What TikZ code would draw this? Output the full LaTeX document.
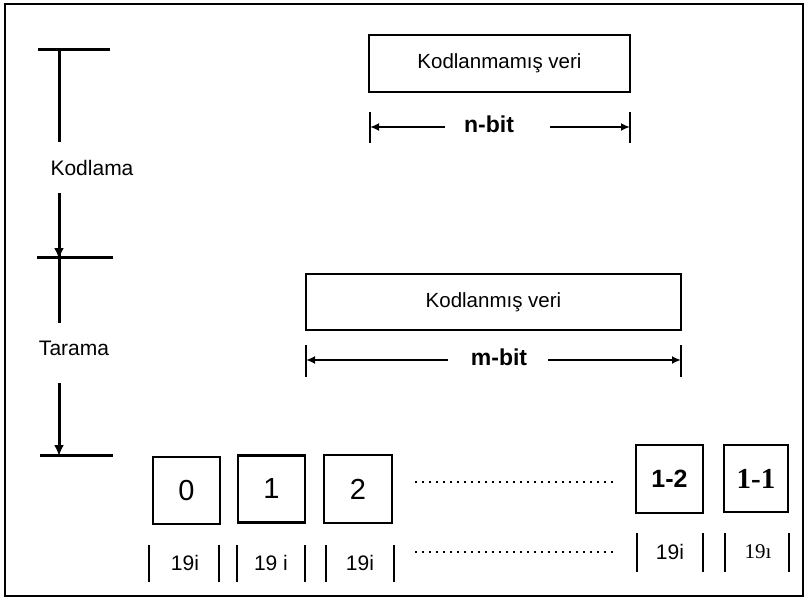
\documentclass[tikz,border=0pt]{standalone}
\usepackage{fontspec}
\setmainfont{Liberation Sans}
\newfontfamily\serifface{Liberation Serif}
\usetikzlibrary{arrows.meta}
\tikzset{
  frame/.style={line width=2pt},
  thick line/.style={line width=3pt},
  datablock/.style={draw, line width=2.8pt, inner sep=0pt, font=\fontsize{20.5}{24}\selectfont},
  cell/.style={draw, line width=2.6pt, inner sep=0pt, minimum width=67pt, minimum height=67pt},
  celltext/.style={font=\fontsize{21}{24}\selectfont},
  sidelabel/.style={font=\fontsize{21}{24}\selectfont},
  hand/.style={font=\fontsize{23}{26}\selectfont\bfseries},
  dimline/.style={line width=2.4pt, -{Latex[length=9pt,width=8pt]}},
  downarrow/.style={line width=3pt, -{Latex[length=11pt,width=10pt]}},
  bar/.style={line width=2.6pt},
  dots/.style={line width=2.4pt, dash pattern=on 1.6pt off 5.4pt}
}
\begin{document}
\begin{tikzpicture}[x=1pt,y=-1pt]
\useasboundingbox (0,0) rectangle (809,607);
% outer frame
\draw[frame] (5,4) rectangle (803,596);

% ---- left column: process stages ----
\coordinate (t1l) at (38,50);  \coordinate (t1r) at (110,50);
\coordinate (t1top) at (59,50); \coordinate (t1bot) at (59,142);
\draw[thick line] (t1l) -- (t1r);
\draw[thick line] (t1top) -- (t1bot);
\node[sidelabel] (kodlama) at (92,168) {Kodlama};

\coordinate (t2l) at (37,257); \coordinate (t2r) at (113,257);
\coordinate (t2top) at (59,193); \coordinate (t2mid) at (59,259); \coordinate (t2bot) at (59,323);
\draw[thick line] (t2l) -- (t2r);
\draw[thick line] (t2top) -- (t2bot);
\draw[downarrow] (t2top) -- (t2mid);
\node[sidelabel] (tarama) at (74,348) {Tarama};

\coordinate (t3l) at (40,455); \coordinate (t3r) at (113,455);
\coordinate (t3top) at (59,383); \coordinate (t3bot) at (59,456);
\draw[thick line] (t3l) -- (t3r);
\draw[downarrow] (t3top) -- (t3bot);

% ---- uncoded data ----
\node[datablock, minimum width=261pt, minimum height=57pt] (raw) at (499.5,63.5) {Kodlanmamış veri};
\coordinate (nL) at (370,127); \coordinate (nR) at (630,127);
\draw[bar] (370,112) -- (370,143);
\draw[bar] (630,112) -- (630,143);
\node[hand] (nbit) at (489,124) {n-bit};
\draw[dimline] (445,127) -- (nL);
\draw[dimline] (550,127) -- (nR);

% ---- coded data ----
\node[datablock, minimum width=375pt, minimum height=56pt] (coded) at (493.5,302) {Kodlanmış veri};
\coordinate (mL) at (306,360); \coordinate (mR) at (681,360);
\draw[bar] (306,345) -- (306,377);
\draw[bar] (681,345) -- (681,377);
\node[hand] (mbit) at (499,357) {m-bit};
\draw[dimline] (448,360) -- (mL);
\draw[dimline] (548,360) -- (mR);

% ---- scanned cells ----
\node[cell, font=\fontsize{29}{32}\selectfont] (c0) at (186.5,490.5) {0};
\node[cell, font=\fontsize{29}{32}\selectfont] (c1) at (271.5,489) {1};
\node[cell, minimum width=68pt, minimum height=68pt, font=\fontsize{29}{32}\selectfont] (c2) at (358,489) {2};
\node[cell, minimum height=68pt, font=\fontsize{25}{28}\selectfont\bfseries] (cm2) at (669.5,479) {1-2};
\node[cell, minimum width=64pt, font=\fontsize{29}{32}\selectfont\serifface\bfseries] (cm1) at (756,478.5) {1-1};

\draw[dots] (415,482) -- (617,482);

% ---- cell widths ----
\foreach \x in {149,219,237,305,326,394} \draw[bar] (\x,545) -- (\x,582);
\foreach \x in {637,703,725,789} \draw[bar] (\x,533) -- (\x,572);
\node[celltext] (w0) at (185,563) {19i};
\node[celltext] (w1) at (271,563) {19 i};
\node[celltext] (w2) at (360,563) {19i};
\node[celltext] (wm2) at (670,552) {19i};
\node[celltext, font=\fontsize{21}{24}\selectfont\serifface] (wm1) at (758,552) {19ı};
\draw[dots] (415,552) -- (617,552);
\end{tikzpicture}
\end{document}
